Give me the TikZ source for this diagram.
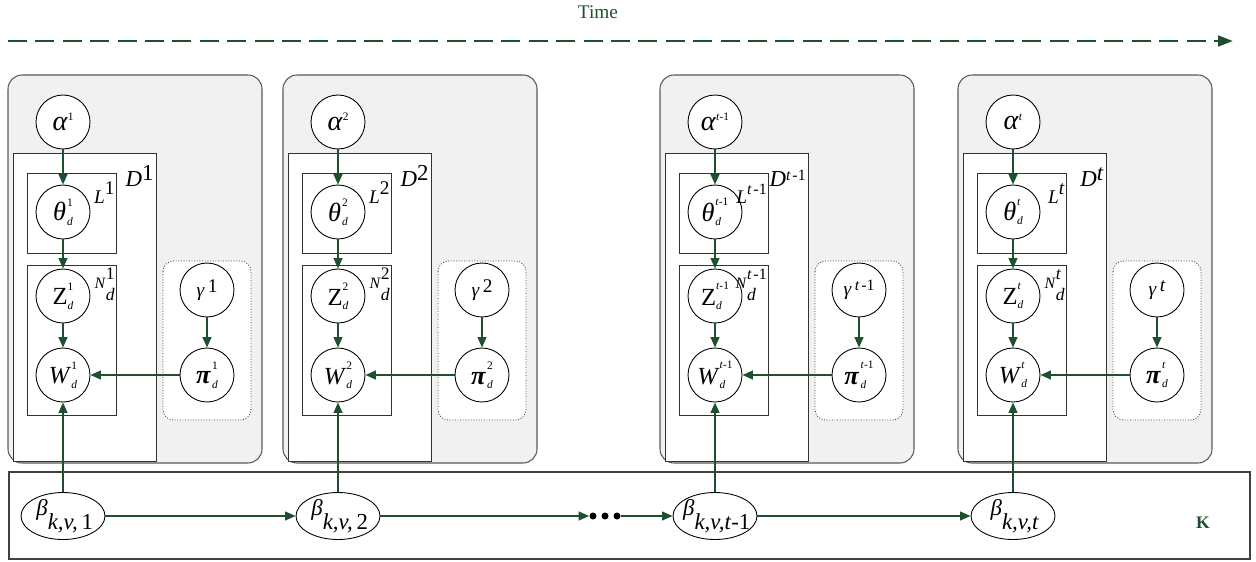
\documentclass[tikz,border=0pt]{standalone}
\usepackage{fontspec}
\setmainfont{Liberation Serif}
\usetikzlibrary{arrows.meta,shapes.geometric}
\definecolor{dg}{RGB}{30,80,48}
\definecolor{panelgray}{RGB}{241,241,241}
\newcommand\fs[1]{\fontsize{#1}{#1}\selectfont}
\newcommand\symss[3]{{#1}\raisebox{-2.5pt}{\fs{6.5}\shortstack[l]{#2\\[3.5pt]\itshape #3}}}
\tikzset{
  panelbox/.style={draw=black!65, fill=panelgray, rounded corners=8pt, line width=0.6pt},
  plate/.style={draw=black!80, fill=white, line width=0.45pt},
  dotbox/.style={draw=black!75, densely dotted, fill=white, rounded corners=6pt, line width=0.5pt},
  var/.style={circle, draw=black, line width=0.5pt, fill=white, minimum size=1.08cm, inner sep=0pt},
  betavar/.style={ellipse, draw=black, line width=0.5pt, fill=white, minimum width=1.68cm, minimum height=0.94cm, inner sep=0pt},
  dotn/.style={circle, fill=black, minimum size=0.14cm, inner sep=0pt},
  lbl/.style={inner sep=0pt},
  arr/.style={draw=dg, line width=1.1pt, -{Triangle[length=6pt,width=5pt]}},
  timearr/.style={draw=dg, line width=1.7pt, dash pattern=on 10.8pt off 4.8pt, -{Triangle[length=8.5pt,width=6pt]}},
}
\newcommand\panel[4]{%
\begin{scope}[shift={(#1,0)}]
  \draw[panelbox] (8,75) rectangle (262,463);
  \draw[plate] (13,153) rectangle (156,461);
  \draw[plate] (27,173) rectangle (116,253);
  \draw[plate] (27,265) rectangle (116,415);
  \draw[dotbox] (163,261) rectangle (251,420);
  \node[var] (a#2) at (63,122) {\fs{16}\textit{α}\raisebox{5.5pt}{\fs{6.5}#3}};
  \node[var] (th#2) at (63,212) {\symss{\fs{15}\textit{θ}\kern0.5pt}{#3}{d}};
  \node[var] (z#2) at (63,296) {\symss{\fs{14}Z}{#3}{d}};
  \node[var] (w#2) at (63,375) {\symss{\fs{14}\textit{W}}{#3}{d}};
  \node[var] (g#2) at (207,290) {\fs{11}\textit{γ}\,\raisebox{2.5pt}{#4}};
  \node[var] (p#2) at (207,375) {\symss{\fs{15}\bfseries\itshape π\kern1pt}{#3}{d}};
  \node[lbl, anchor=base east] (dl#2) at (154,186) {\fs{13}\textit{D}\raisebox{3pt}{#4}};
  \node[lbl, anchor=base east] (ll#2) at (115,203) {\fs{11}\textit{L}\raisebox{5pt}{#4}};
  \node[lbl, anchor=base east] (nl#2) at (115,288) {\fs{9}\textit{N}\raisebox{-7pt}{\fs{10}\shortstack[l]{#4\\[2pt]\itshape d}}};
  \draw[arr] (a#2) -- (th#2);
  \draw[arr] (th#2) -- (z#2);
  \draw[arr] (z#2) -- (w#2);
  \draw[arr] (g#2) -- (p#2);
  \draw[arr] (p#2) -- (w#2);
\end{scope}}
\begin{document}
\begin{tikzpicture}[x=0.02cm, y=-0.02cm]
  \useasboundingbox (0,0) rectangle (1256,561);
  % time axis
  \node[lbl, text=dg] (time) at (598,12) {\fs{11}Time};
  \coordinate (ts) at (8,41);
  \coordinate (te) at (1233,41);
  \draw[timearr] (ts) -- (te);
  % panels
  \panel{0}{1}{1}{1}
  \panel{275}{2}{2}{2}
  \panel{652}{3}{\textit{t}-1}{\fs{9}\textit{t}\kern1pt-1}
  \panel{950}{4}{\textit{t}}{\textit{t}}
  % K plate
  \draw[line width=0.6pt, draw=black!75] (9,472) rectangle (1250,559);
  \node[lbl, text=dg] (K) at (1203,523) {\fs{10}\bfseries K};
  % beta chain
  \node[betavar] (b1) at (63,516) {};
  \node[betavar] (b2) at (338,516) {};
  \node[betavar] (b3) at (715,516) {};
  \node[betavar] (b4) at (1013,516) {};
  \node[lbl] (bl1) at ([xshift=1pt]b1.center) {\fs{13}\textit{β}\raisebox{-8pt}{\textit{k,v,}\,1}};
  \node[lbl] (bl2) at ([xshift=1pt]b2.center) {\fs{13}\textit{β}\raisebox{-8pt}{\textit{k,v,}\,2}};
  \node[lbl] (bl3) at ([xshift=1pt]b3.center) {\fs{13}\textit{β}\raisebox{-8pt}{\textit{k,v,t}-1}};
  \node[lbl] (bl4) at ([xshift=1pt]b4.center) {\fs{13}\textit{β}\raisebox{-8pt}{\textit{k,v,t}}};
  \node[dotn] (d1) at (593,516) {};
  \node[dotn] (d2) at (605,516) {};
  \node[dotn] (d3) at (617,516) {};
  \draw[arr] (b1) -- (b2);
  \draw[arr] (b2) -- (d1);
  \draw[arr] (d3) -- (b3);
  \draw[arr] (b3) -- (b4);
  % beta to words
  \draw[arr] (b1) -- (w1);
  \draw[arr] (b2) -- (w2);
  \draw[arr] (b3) -- (w3);
  \draw[arr] (b4) -- (w4);
\end{tikzpicture}
\end{document}
